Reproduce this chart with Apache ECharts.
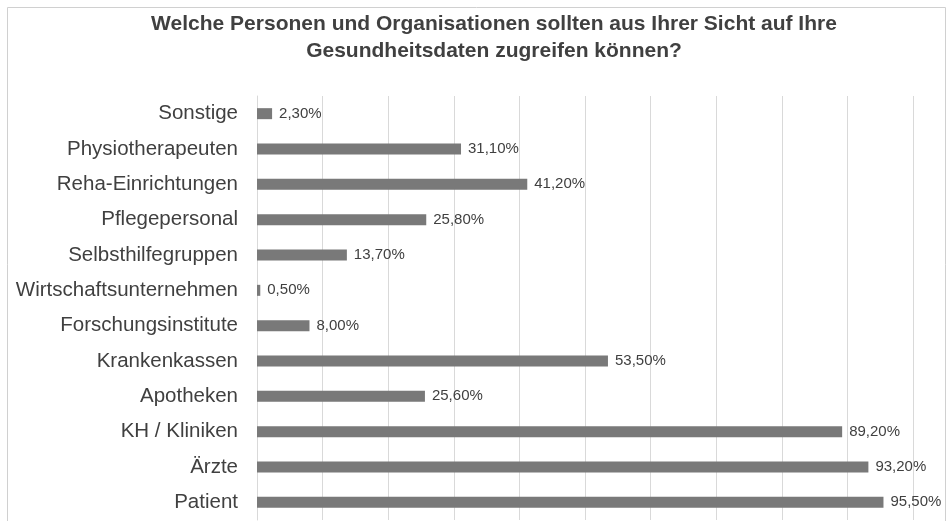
<!DOCTYPE html>
<html>
<head>
<meta charset="utf-8">
<script src="https://cdn.jsdelivr.net/npm/echarts@6/dist/echarts.min.js"></script>
<style>
  html, body { margin: 0; padding: 0; background: #ffffff; }
  #chart { width: 949px; height: 521px; }
</style>
</head>
<body>
<div id="chart"></div>
<script>
// categories from bottom to top, like the source chart
const categories = [
  "Patient", "Ärzte", "KH / Kliniken", "Apotheken", "Krankenkassen",
  "Forschungsinstitute", "Wirtschaftsunternehmen", "Selbsthilfegruppen",
  "Pflegepersonal", "Reha-Einrichtungen", "Physiotherapeuten", "Sonstige"
];
const shares = [95.5, 93.2, 89.2, 25.6, 53.5, 8.0, 0.5, 13.7, 25.8, 41.2, 31.1, 2.3];

const chart = echarts.init(document.getElementById("chart"));

const option = {
  animation: false,
  backgroundColor: "#ffffff",
  textStyle: { fontFamily: "Liberation Sans, Arial, sans-serif" },
  graphic: [
    {
      // chart frame
      type: "rect",
      shape: { x: 7.5, y: 7.5, width: 938, height: 530 },
      style: { fill: "none", stroke: "#d0d0d0", lineWidth: 1 },
      silent: true,
      z: -1
    }
  ],
  title: {
    text: "Welche Personen und Organisationen sollten aus Ihrer Sicht auf Ihre\nGesundheitsdaten zugreifen können?",
    left: 489,
    top: 6,
    textAlign: "center",
    textStyle: {
      color: "#404040",
      fontSize: 21,
      fontWeight: "bold",
      lineHeight: 27,
      fontFamily: "Liberation Sans, Arial, sans-serif"
    }
  },
  grid: {
    left: 257,
    right: 36,
    top: 96,
    bottom: 1,
    containLabel: false
  },
  xAxis: {
    type: "value",
    min: 0,
    max: 100,
    interval: 10,
    axisLabel: { show: false },
    axisLine: { show: false },
    axisTick: { show: false },
    splitLine: { lineStyle: { color: "#d9d9d9", width: 1 } }
  },
  yAxis: {
    type: "category",
    data: categories,
    axisLine: { lineStyle: { color: "#d9d9d9" } },
    axisTick: { show: false },
    axisLabel: {
      color: "#404040",
      fontSize: 20.5,
      margin: 19
    }
  },
  series: [
    {
      type: "bar",
      data: shares,
      barWidth: 11,
      itemStyle: { color: "#797979" },
      label: {
        show: true,
        position: "right",
        distance: 7,
        color: "#404040",
        fontSize: 15,
        formatter: p => p.value.toFixed(2).replace(".", ",") + "%"
      }
    }
  ]
};

chart.setOption(option);
</script>
</body>
</html>
